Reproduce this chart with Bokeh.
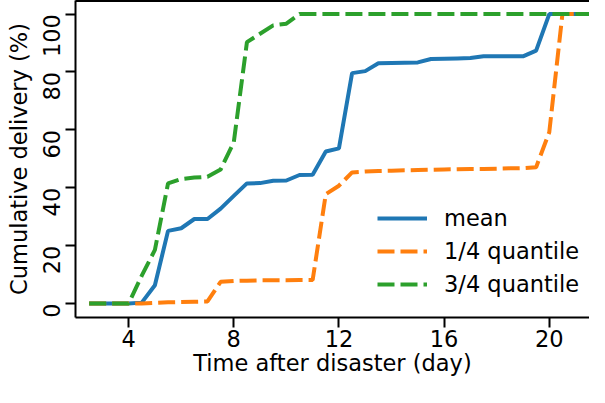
from bokeh.plotting import figure
from bokeh.models import Legend, LegendItem, FixedTicker, LinearAxis, Range1d
from bokeh.embed import file_html
from bokeh.resources import INLINE
import math

days = [2.5, 3.0, 3.5, 4.0, 4.5, 5.0, 5.5, 6.0, 6.5, 7.0, 7.5, 8.0, 8.5, 9.0, 9.5, 10.0,
        10.5, 11.0, 11.5, 12.0, 12.5, 13.0, 13.5, 14.0, 14.5, 15.0, 15.5, 16.0, 16.5, 17.0,
        17.5, 18.0, 18.5, 19.0, 19.5, 20.0, 20.5, 21.0, 21.5, 22.0]

mean_vals = [0, 0, 0, 0, 0.3, 6.3, 25.1, 26.0, 29.2, 29.2, 32.8, 37.2, 41.5, 41.6, 42.4, 42.5,
             44.4, 44.5, 52.5, 53.6, 79.6, 80.3, 83.0, 83.1, 83.2, 83.3, 84.5, 84.6, 84.7, 84.8,
             85.4, 85.4, 85.4, 85.4, 87.4, 100, 100, 100, 100, 100]

q1_vals = [0, 0, 0, 0, 0, 0.2, 0.4, 0.5, 0.6, 0.7, 7.5, 7.8, 7.9, 8.0, 8.0, 8.0,
           8.1, 8.1, 37.8, 40.7, 45.3, 45.6, 45.8, 45.9, 46.0, 46.1, 46.2, 46.3, 46.4, 46.5,
           46.5, 46.6, 46.7, 46.8, 47.1, 59.2, 100, 100, 100, 100]

q3_vals = [0, 0, 0, 0, 9.6, 18.5, 41.5, 43.0, 43.5, 43.8, 46.3, 55.7, 90.3, 93.2, 96.1, 96.7,
           100, 100, 100, 100, 100, 100, 100, 100, 100, 100, 100, 100, 100, 100,
           100, 100, 100, 100, 100, 100, 100, 100, 100, 100]

series_labels = ["mean", "1/4 quantile", "3/4 quantile"]
x_ticks = [4, 8, 12, 16, 20]
y_ticks = [0, 20, 40, 60, 80, 100]
x_title = "Time after disaster (day)"
y_title = "Cumulative delivery (%)"

FONT = "DejaVu Sans"
FS = "22.5px"

p = figure(width=589, height=382,
           x_range=Range1d(1.98, 21.53), y_range=Range1d(-4.84, 104.7),
           output_backend="svg", toolbar_location=None,
           min_border_left=75, min_border_right=0, min_border_top=0, min_border_bottom=65)
p.outline_line_color = None
p.grid.visible = False
p.background_fill_color = "white"
p.border_fill_color = "white"

r1 = p.line(days, mean_vals, line_color="#1f77b4", line_width=4)
r2 = p.line(days, q1_vals, line_color="#ff7f0e", line_width=4, line_dash="17 6")
r3 = p.line(days, q3_vals, line_color="#2ca02c", line_width=4, line_dash="17 6")

for ax in (p.xaxis[0], p.yaxis[0]):
    ax.axis_line_width = 2
    ax.axis_line_color = "black"
    ax.major_tick_line_width = 2
    ax.major_tick_line_color = "black"
    ax.major_tick_out = 10
    ax.major_tick_in = 0
    ax.minor_tick_line_color = None
    ax.minor_tick_out = 0
    ax.minor_tick_in = 0
    ax.major_label_text_font = FONT
    ax.major_label_text_font_size = FS
    ax.major_label_text_color = "black"
    ax.axis_label_text_font = FONT
    ax.axis_label_text_font_size = FS
    ax.axis_label_text_font_style = "normal"
    ax.axis_label_text_color = "black"

p.xaxis[0].ticker = FixedTicker(ticks=x_ticks)
p.yaxis[0].ticker = FixedTicker(ticks=y_ticks)
p.xaxis[0].axis_label = x_title
p.yaxis[0].axis_label = y_title
p.xaxis[0].major_label_standoff = 2
p.xaxis[0].axis_label_standoff = 0
p.yaxis[0].major_label_orientation = math.pi / 2
p.yaxis[0].major_label_standoff = 14
p.yaxis[0].axis_label_standoff = 0

top = LinearAxis(ticker=FixedTicker(ticks=[]), major_label_text_font_size="0px",
                 major_tick_out=0, major_tick_in=0, minor_tick_out=0, minor_tick_in=0,
                 major_label_standoff=0, axis_label_standoff=0,
                 axis_line_width=3, axis_line_color="black", minor_tick_line_color=None)
p.add_layout(top, "above")

legend = Legend(items=[LegendItem(label=series_labels[0], renderers=[r1]),
                       LegendItem(label=series_labels[1], renderers=[r2]),
                       LegendItem(label=series_labels[2], renderers=[r3])],
                location=(302, 19))
legend.label_text_font = FONT
legend.label_text_font_size = FS
legend.label_text_color = "black"
legend.glyph_width = 50
legend.glyph_height = 28
legend.label_height = 28
legend.spacing = 5
legend.padding = 0
legend.margin = 0
legend.label_standoff = 17
legend.border_line_color = None
legend.background_fill_alpha = 0
p.add_layout(legend)

open("out.html", "w").write(file_html(p, INLINE))
